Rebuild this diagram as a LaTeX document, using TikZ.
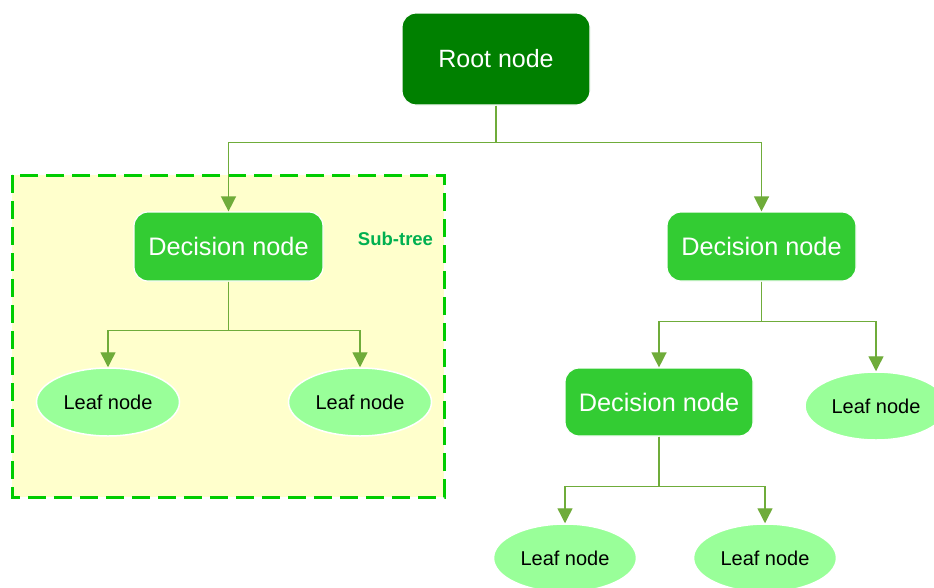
\documentclass[tikz,border=0pt]{standalone}
\usepackage{fontspec}
\setmainfont{Liberation Sans}
\usetikzlibrary{arrows.meta,shapes.geometric}
\definecolor{rootg}{HTML}{008000}
\definecolor{decg}{HTML}{33CC33}
\definecolor{leafg}{HTML}{99FF99}
\definecolor{lineg}{HTML}{6FAC3A}
\definecolor{subfill}{HTML}{FFFFCC}
\definecolor{subdash}{HTML}{00CC00}
\definecolor{sublabel}{HTML}{00B050}
\begin{document}
\begin{tikzpicture}[x=1pt,y=-1pt,
  rootbox/.style={rectangle, rounded corners=14pt, fill=rootg, draw=white, line width=1.2pt,
    minimum width=188pt, minimum height=92pt, inner sep=0pt, text=white, font=\fontsize{25}{29}\selectfont},
  decbox/.style={rectangle, rounded corners=14pt, fill=decg, draw=white, line width=1.2pt,
    minimum width=189pt, minimum height=69pt, inner sep=0pt, text=white, font=\fontsize{25.3}{29}\selectfont},
  leafbox/.style={ellipse, fill=leafg, draw=white, line width=1.5pt,
    minimum width=143pt, minimum height=68pt, inner sep=0pt, text=black, font=\fontsize{20}{23}\selectfont},
  conn/.style={draw=lineg, line width=1.4pt, -{Triangle[width=15pt,length=15pt]}},
  subframe/.style={draw=subdash, fill=subfill, line width=3pt, dash pattern=on 18pt off 8pt},
]
\useasboundingbox (0,0) rectangle (934,587);
\fill[white] (0,0) rectangle (934,587);

% sub-tree frame
\path[subframe] (12,175) rectangle (444,497);
\node[text=sublabel, font=\bfseries\fontsize{18.5}{21}\selectfont] (sublab) at (395.5,239) {Sub-tree};

% nodes
\node[rootbox] (root) at (496,59) {Root node};
\node[decbox] (decL) at (228.5,246.5) {Decision node};
\node[decbox] (decR) at (761.5,246.5) {Decision node};
\node[decbox, minimum width=188pt, minimum height=68pt] (decLow) at (659,402) {Decision node};

\node[leafbox] (leafLL) at (108,402) {Leaf node};
\node[leafbox] (leafLR) at (360,402) {Leaf node};
\node[leafbox, minimum width=142pt] (leafR) at (876,406) {Leaf node};
\node[leafbox] (leafBL) at (565,558) {Leaf node};
\node[leafbox] (leafBR) at (765,558) {Leaf node};

% connectors
\draw[conn] (root.south) -- ++(0,37) -| (decL.north);
\draw[conn] (root.south) -- ++(0,37) -| (decR.north);
\draw[conn] (decL.south) -- ++(0,49) -| (leafLL.north);
\draw[conn] (decL.south) -- ++(0,49) -| (leafLR.north);
\draw[conn] (decR.south) -- ++(0,40) -| (decLow.north);
\draw[conn] (decR.south) -- ++(0,40) -| (leafR.north);
\draw[conn] (decLow.south) -- ++(0,50) -| (leafBL.north);
\draw[conn] (decLow.south) -- ++(0,50) -| (leafBR.north);
\end{tikzpicture}
\end{document}
